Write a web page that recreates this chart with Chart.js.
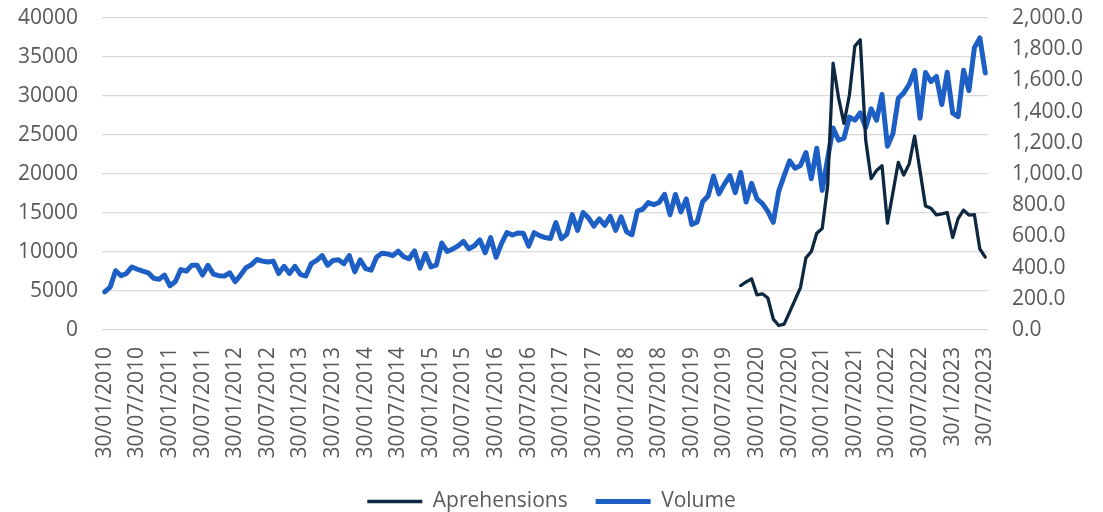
<!DOCTYPE html>
<html>
<head>
<meta charset="utf-8">
<script src="https://cdn.jsdelivr.net/npm/chart.js@4.4.1/dist/chart.umd.min.js"></script>
<style>
html,body{margin:0;padding:0;background:#fff;}
#wrap{width:1103px;height:512px;position:relative;}
</style>
</head>
<body>
<div id="wrap"><canvas id="chart"></canvas></div>
<script>
// tick labels shown every 6 months on the x axis
const tickLabels=[
  '30/01/2010','30/07/2010','30/01/2011','30/07/2011','30/01/2012','30/07/2012',
  '30/01/2013','30/07/2013','30/01/2014','30/07/2014','30/01/2015','30/07/2015',
  '30/01/2016','30/07/2016','30/01/2017','30/07/2017','30/01/2018','30/07/2018',
  '30/01/2019','30/07/2019','30/01/2020','30/07/2020','30/01/2021','30/07/2021',
  '30/01/2022','30/07/2022','30/1/2023','30/7/2023'
];

// Volume, monthly Jan 2010 - Jul 2023 (left axis)
const volume=[
  4900,5500,7600,6960,7250,8080,7790,7540,7330,6620,6500,7040,
  5670,6210,7750,7540,8290,8290,7040,8290,7170,6960,6920,7330,
  6210,7040,8000,8375,9040,8830,8710,8830,7250,8170,7250,8170,
  7125,6920,8500,8920,9540,8290,8920,9000,8500,9540,7460,9000,
  7875,7670,9330,9830,9750,9540,10100,9390,9130,10130,7920,9800,
  8100,8330,11150,10080,10360,10780,11350,10400,10800,11560,9900,11850,
  9320,11100,12480,12180,12430,12400,10750,12480,12100,11850,11730,13780,
  11700,12260,14800,12780,15070,14380,13320,14250,13420,14570,12780,14500,
  12600,12220,15250,15500,16330,16070,16350,17400,14780,17370,15150,16800,
  13520,13850,16450,17170,19730,17450,18700,19800,17600,20200,16400,18800,
  16800,16200,15200,13800,17800,19800,21700,20750,21100,22750,19400,23300,
  17900,22000,25900,24350,24600,27300,26900,27850,25950,28350,26900,30200,
  23550,25150,29700,30400,31500,33300,27150,33000,31850,32500,28900,33050,
  27800,27350,33300,30700,36200,37450,32950
];

// Aprehensions, monthly Oct 2019 - Jul 2023 (right axis)
const aprehensions=[
  285,308,328,
  225,232,205,70,29,38,115,193,272,462,503,620,
  650,925,1710,1490,1325,1505,1820,1860,1218,970,1023,1053,
  685,880,1075,993,1065,1243,1020,795,780,738,745,753,
  593,714,768,737,739,519,467
];

const categories=volume.map((_,i)=> i%6===0 ? tickLabels[i/6] : '');
const aprehensionsData=new Array(volume.length-aprehensions.length).fill(null).concat(aprehensions);

const textColor='#595959';
const font={family:"'Open Sans', sans-serif", size:21};
const clear='rgba(0,0,0,0)';

new Chart(document.getElementById('chart'),{
  type:'line',
  data:{
    labels:categories,
    datasets:[
      {label:'Aprehensions',data:aprehensionsData,yAxisID:'y1',borderColor:'#0e2841',backgroundColor:'#0e2841',
       borderWidth:3.3,pointRadius:0,tension:0,borderJoinStyle:'round',borderCapStyle:'round',spanGaps:false},
      {label:'Volume',data:volume,yAxisID:'y',borderColor:'#1e5fc6',backgroundColor:'#1e5fc6',
       borderWidth:5,pointRadius:0,tension:0,borderJoinStyle:'round',borderCapStyle:'round'}
    ]
  },
  options:{
    responsive:true,maintainAspectRatio:false,animation:false,devicePixelRatio:1,
    layout:{padding:{top:18,left:0,right:0,bottom:-10}},
    plugins:{
      tooltip:{enabled:false},
      legend:{position:'bottom',labels:{usePointStyle:true,pointStyle:'line',pointStyleWidth:55,padding:28,color:textColor,font}}
    },
    scales:{
      x:{offset:true,grid:{display:false,drawTicks:false},border:{display:false},
         ticks:{autoSkip:false,minRotation:90,maxRotation:90,padding:17,color:textColor,font},
         afterFit(s){ s.height=133; }},
      y:{position:'left',min:0,max:40000,
         grid:{color:'#d9d9d9',lineWidth:1.3,drawTicks:true,tickLength:24,tickColor:clear},border:{display:false},
         ticks:{stepSize:5000,padding:0,color:textColor,font,callback:v=>String(v)},
         afterFit(s){ s.width=102; }},
      y1:{position:'right',min:0,max:2000,
         grid:{color:clear,drawOnChartArea:false,drawTicks:true,tickLength:24,tickColor:clear},border:{display:false},
         ticks:{stepSize:200,padding:0,color:textColor,font,
                callback:v=>v.toLocaleString('en-US',{minimumFractionDigits:1,maximumFractionDigits:1})},
         afterFit(s){ s.width=115; }}
    }
  }
});
</script>
</body>
</html>
